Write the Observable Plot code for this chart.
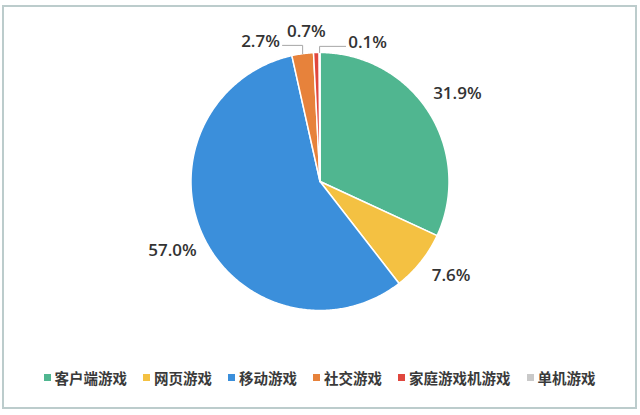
<!DOCTYPE html>
<html>
<head>
<meta charset="utf-8">
<script src="https://cdn.jsdelivr.net/npm/d3@7"></script>
<script src="https://cdn.jsdelivr.net/npm/@observablehq/plot@0.6"></script>
<style>
  html, body { margin: 0; padding: 0; background: #fff; }
  body { width: 640px; height: 415px; position: relative; overflow: hidden; }
  #frame {
    position: absolute; left: 2px; top: 5px; width: 631px; height: 400px;
    border: 2px solid #bccccc; background: #fff;
  }
  #chart svg { display: block; }
  #legend {
    display: flex; justify-content: center; align-items: center;
    margin-top: 5px; height: 20px; gap: 16px;
    font-family: "Noto Sans CJK SC", sans-serif; font-size: 14.5px; color: #3a3a3a; font-weight: 600;
  }
  #legend .item { display: flex; align-items: center; }
  #legend .sw { width: 7px; height: 7px; margin-right: 4px; }
</style>
</head>
<body>
<div id="frame">
  <div id="chart"></div>
  <div id="legend"></div>
</div>
<script>
const categories = ["客户端游戏", "网页游戏", "移动游戏", "社交游戏", "家庭游戏机游戏", "单机游戏"];
const shares = [31.9, 7.6, 57.0, 2.7, 0.7, 0.1];
const shareLabels = ["31.9%", "7.6%", "57.0%", "2.7%", "0.7%", "0.1%"];
const colors = ["#50b690", "#f4c142", "#3b8fdb", "#e7823b", "#e0473e", "#c9c9c9"];

// layout
const W = 631, H = 355, CX = 315.5, CY = 174, R = 129;
const px = 1 / R; // one pixel in unit coordinates
// label placement overrides (angle in degrees, radius in pie radii, leader side)
const labelPlacement = {
  "网页游戏": {angle: 125.6, r: 1.25, leader: null},
  "社交游戏": {angle: 337, r: 1.18, leader: "right"},
  "家庭游戏机游戏": {angle: 354.8, r: 1.168, leader: null},
  "单机游戏": {angle: 18.9, r: 1.14, leader: "left"}
};

const arcs = d3.pie().sort(null).value(d => d)(shares);

// slice polygons
const slicePts = [];
arcs.forEach((a, i) => {
  const cat = categories[i];
  slicePts.push({cat, x: 0, y: 0});
  const n = Math.max(1, Math.ceil((a.endAngle - a.startAngle) / 0.01));
  for (let k = 0; k <= n; k++) {
    const t = a.startAngle + (a.endAngle - a.startAngle) * k / n;
    slicePts.push({cat, x: Math.sin(t), y: Math.cos(t)});
  }
});

// labels
const labelData = arcs.map((a, i) => {
  const cat = categories[i];
  const mid = (a.startAngle + a.endAngle) / 2;
  const p = labelPlacement[cat];
  const ang = p ? p.angle * Math.PI / 180 : mid;
  const r = p ? p.r : 1.264;
  return {cat, text: shareLabels[i], x: r * Math.sin(ang), y: r * Math.cos(ang), mid, leader: p ? p.leader : null};
});

// leader lines
const leaderPts = [];
labelData.forEach(l => {
  if (!l.leader) return;
  const sx = Math.sin(l.mid), sy = Math.cos(l.mid);
  const ly = l.y - 4 * px;
  const ex = l.leader === "right" ? l.x + 22 * px : l.x - 22 * px;
  leaderPts.push({cat: l.cat, x: sx, y: sy});
  leaderPts.push({cat: l.cat, x: sx, y: ly});
  leaderPts.push({cat: l.cat, x: ex, y: ly});
});

const plot = Plot.plot({
  width: W, height: H,
  margin: 0,
  x: {domain: [-1, 1], range: [CX - R, CX + R], axis: null},
  y: {domain: [-1, 1], range: [CY + R, CY - R], axis: null},
  color: {domain: categories, range: colors},
  marks: [
    Plot.line(slicePts, {x: "x", y: "y", z: "cat", fill: "cat", stroke: "white", strokeWidth: 1.5, strokeLinejoin: "round", curve: "linear-closed"}),
    Plot.line(leaderPts, {x: "x", y: "y", z: "cat", stroke: "#a6a6a6", strokeWidth: 1}),
    Plot.text(labelData, {x: "x", y: "y", text: "text", fill: "#333333", fontSize: 17, fontFamily: "Open Sans", fontWeight: 600})
  ]
});
document.getElementById("chart").appendChild(plot);

const legend = document.getElementById("legend");
categories.forEach((c, i) => {
  const item = document.createElement("div");
  item.className = "item";
  const sw = document.createElement("span");
  sw.className = "sw";
  sw.style.background = colors[i];
  const t = document.createElement("span");
  t.textContent = c;
  item.appendChild(sw);
  item.appendChild(t);
  legend.appendChild(item);
});
</script>
</body>
</html>
